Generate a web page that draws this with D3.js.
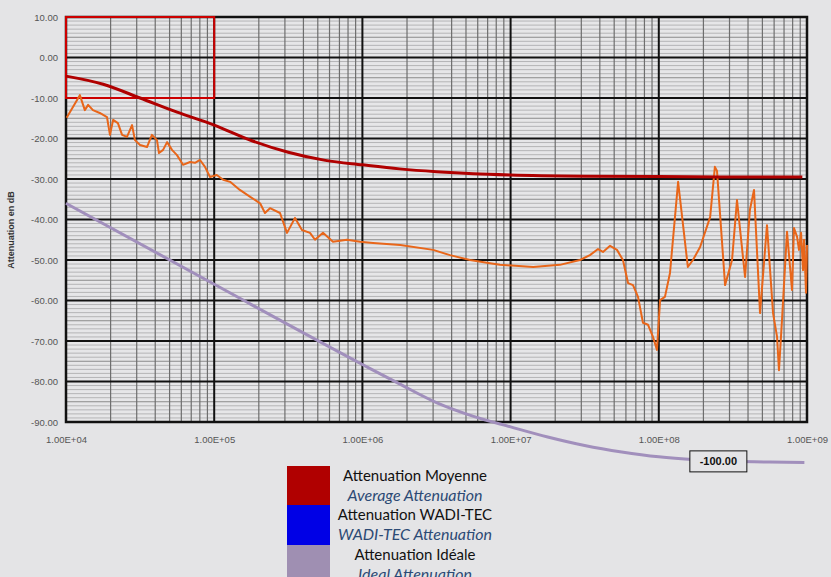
<!DOCTYPE html>
<html><head><meta charset="utf-8">
<script src="https://cdn.jsdelivr.net/npm/d3@7"></script>
<style>
html,body{margin:0;padding:0;background:#e4e4e6;}
svg{display:block;}
</style></head>
<body>
<svg id="chart" width="831" height="577"></svg>
<script>
// ---- data ----
const xTickLabels = ["1.00E+04","1.00E+05","1.00E+06","1.00E+07","1.00E+08","1.00E+09"];
const xTickValues = [1e4,1e5,1e6,1e7,1e8,1e9];
const yTickValues = [10,0,-10,-20,-30,-40,-50,-60,-70,-80,-90];
const yTickLabels = ["10.00","0.00","-10.00","-20.00","-30.00","-40.00","-50.00","-60.00","-70.00","-80.00","-90.00"];

const avgFreq = [1e4,1.78e4,3.16e4,5.62e4,1e5,1.78e5,3.16e5,5.62e5,1e6,1.78e6,3.16e6,5.62e6,1e7,3.16e7,1e8,3.16e8,9.3e8];
const avgDb   = [-4.6,-6.6,-10,-13.5,-16.7,-20.5,-23.4,-25.4,-26.5,-27.5,-28.2,-28.7,-29.0,-29.3,-29.4,-29.5,-29.5];

const idealFreq = [1e4,1e5,1e6,1.78e6,3.16e6,5.62e6,1e7,1.78e7,3.16e7,5.62e7,1e8,1.78e8,3.16e8,5.62e8,9.6e8];
const idealDb   = [-36,-56,-75.8,-80.6,-85.2,-88.6,-91.2,-93.7,-95.8,-97.4,-98.6,-99.3,-99.7,-99.9,-100];

const measFreq = [1.01e4,1.24e4,1.34e4,1.41e4,1.52e4,1.69e4,1.89e4,1.98e4,2.08e4,2.24e4,2.39e4,2.58e4,2.79e4,2.92e4,3.16e4,3.52e4,3.80e4,4.11e4,4.24e4,4.52e4,4.81e4,5.19e4,5.61e4,6.16e4,6.87e4,7.42e4,8.02e4,8.67e4,9.37e4,1.04e5,1.15e5,1.28e5,1.49e5,1.75e5,2.04e5,2.20e5,2.38e5,2.78e5,3.10e5,3.51e5,3.91e5,4.43e5,4.79e5,5.42e5,6.33e5,7.87e5,9.64e5,1.18e6,1.80e6,3.00e6,3.90e6,5.32e6,7.26e6,8.48e6,1.42e7,2.15e7,2.94e7,3.43e7,3.89e7,4.20e7,4.69e7,5.22e7,5.73e7,6.20e7,6.70e7,7.24e7,7.82e7,8.46e7,9.14e7,9.72e7,1.02e8,1.10e8,1.19e8,1.35e8,1.57e8,1.70e8,1.90e8,2.22e8,2.39e8,2.47e8,2.80e8,3.12e8,3.37e8,3.82e8,4.12e8,4.39e8,4.82e8,5.37e8,5.90e8,6.28e8,6.47e8,6.78e8,7.33e8,7.92e8,8.17e8,8.57e8,8.83e8,9.12e8,9.40e8,9.55e8,9.85e8,1.0e9];
const measDb = [-14.9,-9.3,-13,-11.7,-13,-13.7,-14.7,-19.1,-15.4,-16.2,-19.1,-19.6,-16.7,-20.4,-21.6,-22.1,-19.1,-20.4,-23.6,-22.8,-20.9,-22.8,-24.1,-26.5,-25.8,-26.0,-25.3,-27.0,-29.5,-29,-30.2,-30.7,-32.7,-34.4,-36,-38.4,-37.2,-38.4,-43.3,-39.6,-42.6,-43.3,-45,-43.3,-45.5,-45,-45.5,-45.8,-46.3,-47.5,-48.8,-50,-50.8,-51.2,-51.7,-51.2,-50,-48.8,-47.3,-48,-46.5,-47.5,-50,-55.7,-56.2,-59.1,-65.5,-66,-69,-72.2,-59.9,-59.1,-53.2,-30.7,-51.7,-50,-46.8,-39.4,-27,-28,-56.2,-50,-35.2,-54.2,-37.6,-32.7,-63.1,-41.4,-63.1,-69,-77.2,-64.8,-43,-57.4,-42.1,-44.3,-47.5,-43.3,-52.5,-45,-58.1,-46.3];

const legendLabels = ["Attenuation Moyenne","Attenuation WADI-TEC","Attenuation Idéale"];
const legendLabelsEn = ["Average Attenuation","WADI-TEC Attenuation","Ideal Attenuation"];
const legendColors = ["#b00000","#0000e6","#9f8fb2"];
const endLabel = "-100.00";
const endLabelFreq = 1.62e8;

// ---- layout ----
const L = 66, R = 807, T = 17, B = 422;
const svg = d3.select("#chart");
const x = d3.scaleLog().domain([1e4,1e9]).range([L,R]);
const y = d3.scaleLinear().domain([-90,10]).range([B,T]);

svg.append("rect").attr("x",L).attr("y",T).attr("width",R-L).attr("height",B-T).attr("fill","#e6e6e8");

const g = svg.append("g");
for (let v = -90; v <= 10; v += 1) {
  if (v % 10 === 0) continue;
  g.append("line").attr("x1",L).attr("x2",R).attr("y1",y(v)).attr("y2",y(v))
    .attr("stroke", v % 5 === 0 ? "#8a8a8a" : "#b4b4b6").attr("stroke-width",1);
}
for (let d = 4; d < 9; d++) {
  for (let m = 2; m <= 9; m++) {
    const xv = x(m * Math.pow(10,d));
    g.append("line").attr("x1",xv).attr("x2",xv).attr("y1",T).attr("y2",B)
      .attr("stroke","#6e6e6e").attr("stroke-width",1.2);
  }
}
yTickValues.forEach(v => {
  g.append("line").attr("x1",L).attr("x2",R).attr("y1",y(v)).attr("y2",y(v))
    .attr("stroke","#111").attr("stroke-width",2);
});
xTickValues.forEach(v => {
  g.append("line").attr("x1",x(v)).attr("x2",x(v)).attr("y1",T).attr("y2",B)
    .attr("stroke","#111").attr("stroke-width",2);
});
svg.append("rect").attr("x",L).attr("y",T).attr("width",R-L).attr("height",B-T)
  .attr("fill","none").attr("stroke","#111").attr("stroke-width",2.5);

const yAxis = d3.axisLeft(y).tickValues(yTickValues).tickSize(0).tickPadding(8)
  .tickFormat((d,i) => yTickLabels[i]);
const ya = svg.append("g").attr("transform",`translate(${L},0)`).call(yAxis);
ya.select(".domain").remove();
ya.selectAll("text").attr("font-family","Liberation Sans, Arial, sans-serif").attr("font-size",9.5).attr("fill","#555");

const xAxis = d3.axisBottom(x).tickValues(xTickValues).tickSize(0).tickPadding(14)
  .tickFormat((d,i) => xTickLabels[i]);
const xa = svg.append("g").attr("transform",`translate(0,${B})`).call(xAxis);
xa.select(".domain").remove();
xa.selectAll("text").attr("font-family","Liberation Sans, Arial, sans-serif").attr("font-size",9.5).attr("fill","#555");

svg.append("text").attr("transform","translate(14,230) rotate(-90)")
  .attr("text-anchor","middle").attr("font-family","Liberation Sans, Arial, sans-serif")
  .attr("font-size",9).attr("font-weight","bold").attr("fill","#333").text("Attenuation en dB");

svg.append("rect").attr("x",x(1e4)).attr("y",y(10)).attr("width",x(1e5)-x(1e4)).attr("height",y(-10)-y(10))
  .attr("fill","none").attr("stroke","#cc0000").attr("stroke-width",2);

svg.append("path").datum(d3.zip(measFreq,measDb))
  .attr("d", d3.line().x(d=>x(d[0])).y(d=>y(d[1])).curve(d3.curveLinear)).attr("fill","none").attr("stroke","#e8661a").attr("stroke-width",2).attr("stroke-linejoin","round");
svg.append("path").datum(d3.zip(avgFreq,avgDb))
  .attr("d", d3.line().x(d=>x(d[0])).y(d=>y(d[1])).curve(d3.curveMonotoneX)).attr("fill","none").attr("stroke","#b00000").attr("stroke-width",3);
svg.append("path").datum(d3.zip(idealFreq,idealDb))
  .attr("d", d3.line().x(d=>x(d[0])).y(d=>y(d[1])).curve(d3.curveMonotoneX)).attr("fill","none").attr("stroke","#a18fbc").attr("stroke-width",3);

const lb = svg.append("g").attr("transform",`translate(${x(endLabelFreq)},${y(-99.6)})`);
lb.append("rect").attr("x",0).attr("y",-10).attr("width",57).attr("height",21).attr("fill","#e4e4e6").attr("stroke","#111").attr("stroke-width",1);
lb.append("text").attr("x",28.5).attr("y",4.5).attr("text-anchor","middle").attr("font-family","Liberation Sans, Arial, sans-serif")
  .attr("font-size",11).attr("font-weight","bold").attr("fill","#111").text(endLabel);

const lg = svg.append("g").attr("transform","translate(287,466)");
const sh = [39,40,40];
let yy = 0;
legendColors.forEach((c,i) => {
  lg.append("rect").attr("x",0).attr("y",yy).attr("width",43).attr("height",sh[i]).attr("fill",c);
  lg.append("text").attr("x",128).attr("y",yy+15).attr("text-anchor","middle")
    .attr("font-family","Lato, Open Sans, sans-serif").attr("font-size",15).attr("fill","#111").text(legendLabels[i]);
  lg.append("text").attr("x",128).attr("y",yy+34.5).attr("text-anchor","middle")
    .attr("font-family","Lato, Open Sans, sans-serif").attr("font-style","italic").attr("font-size",16).attr("fill","#2c4a75").text(legendLabelsEn[i]);
  yy += sh[i];
});
</script>
</body></html>
